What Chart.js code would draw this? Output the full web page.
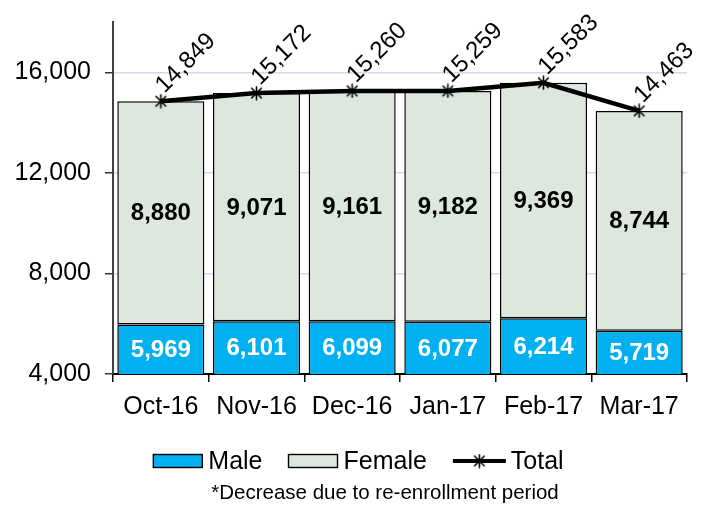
<!DOCTYPE html>
<html><head><meta charset="utf-8">
<script src="https://cdn.jsdelivr.net/npm/chart.js@4.4.1/dist/chart.umd.min.js"></script>
<style>html,body{margin:0;padding:0;background:#fff;}</style>
</head><body>
<canvas id="c" width="704" height="506" style="display:block;width:704px;height:506px"></canvas>
<script>
const categories = ['Oct-16', 'Nov-16', 'Dec-16', 'Jan-17', 'Feb-17', 'Mar-17'];
const male = [5969, 6101, 6099, 6077, 6214, 5719];
const female = [8880, 9071, 9161, 9182, 9369, 8744];
const total = [14849, 15172, 15260, 15259, 15583, 14463];
const yTicks = [4000, 8000, 12000, 16000];
const footnote = '*Decrease due to re-enrollment period';

const FONT = "'Liberation Sans', Arial, sans-serif";
Chart.defaults.font.family = FONT;
Chart.defaults.color = '#000';

const MALE_COLOR = '#00b0f0';
const FEMALE_COLOR = '#dde7de';

function makeStar(size, lw) {
  const c = document.createElement('canvas');
  c.width = size; c.height = size;
  const g = c.getContext('2d');
  g.strokeStyle = '#000'; g.lineWidth = lw; g.lineCap = 'butt';
  const m = size / 2, r = size / 2 - 0.5;
  const d = r * 0.75;
  g.beginPath();
  g.moveTo(m - d, m - d); g.lineTo(m + d, m + d);
  g.moveTo(m + d, m - d); g.lineTo(m - d, m + d);
  g.moveTo(m, m - r); g.lineTo(m, m + r);
  g.stroke();
  return c;
}
const star = makeStar(15, 1.6);
const fmt = v => v.toLocaleString('en-US');

const labelPlugin = {
  id: 'valueLabels',
  afterDatasetsDraw(chart) {
    const ctx = chart.ctx, ys = chart.scales.y, area = chart.chartArea;
    const tMeta = chart.getDatasetMeta(0), mMeta = chart.getDatasetMeta(1), fMeta = chart.getDatasetMeta(2);
    ctx.save();
    ctx.font = 'bold 24px ' + FONT;
    ctx.textAlign = 'center'; ctx.textBaseline = 'middle';
    male.forEach((v, i) => {
      const el = mMeta.data[i];
      const top = ys.getPixelForValue(v);
      const bot = Math.min(area.bottom, ys.getPixelForValue(0));
      ctx.fillStyle = '#fff';
      ctx.fillText(fmt(v), el.x, (top + bot) / 2 + 1);
    });
    female.forEach((v, i) => {
      const el = fMeta.data[i];
      const bot = ys.getPixelForValue(male[i]);
      const top = ys.getPixelForValue(male[i] + v);
      ctx.fillStyle = '#000';
      ctx.fillText(fmt(v), el.x, (top + bot) / 2 + 1);
    });
    ctx.font = '24px ' + FONT;
    total.forEach((v, i) => {
      const p = tMeta.data[i];
      ctx.save();
      ctx.translate(p.x + 25, p.y - 38);
      ctx.rotate(-Math.PI / 4);
      ctx.fillStyle = '#000';
      ctx.fillText(fmt(v), 0, 0);
      ctx.restore();
    });
    ctx.restore();
  }
};

const legendPlugin = {
  id: 'customLegend',
  afterDraw(chart) {
    const ctx = chart.ctx;
    ctx.save();
    ctx.font = '25px ' + FONT;
    ctx.textBaseline = 'middle';
    ctx.textAlign = 'left';
    const cy = 461;
    const items = [
      { label: 'Male', kind: 'box', color: MALE_COLOR },
      { label: 'Female', kind: 'box', color: FEMALE_COLOR },
      { label: 'Total', kind: 'line' }
    ];
    const boxW = 49, lineW = 53, gapIcon = 6, gapItem = 26;
    let totalW = 0;
    items.forEach((it, k) => {
      it.w = ctx.measureText(it.label).width;
      totalW += (it.kind === 'box' ? boxW : lineW) + gapIcon + it.w + (k < items.length - 1 ? gapItem : 0);
    });
    let x = 359 - totalW / 2;
    items.forEach(it => {
      if (it.kind === 'box') {
        ctx.fillStyle = it.color;
        ctx.fillRect(x, cy - 6.5, boxW, 13);
        ctx.strokeStyle = '#000'; ctx.lineWidth = 1.4;
        ctx.strokeRect(x, cy - 6.5, boxW, 13);
        x += boxW + gapIcon;
      } else {
        ctx.strokeStyle = '#000'; ctx.lineWidth = 4;
        ctx.beginPath(); ctx.moveTo(x, cy); ctx.lineTo(x + lineW, cy); ctx.stroke();
        ctx.drawImage(star, x + lineW / 2 - star.width / 2, cy - star.height / 2);
        x += lineW + gapIcon - 1;
      }
      ctx.fillStyle = '#000';
      ctx.fillText(it.label, x, cy + 1);
      x += it.w + gapItem;
    });
    ctx.font = '20.5px ' + FONT;
    ctx.textAlign = 'center';
    ctx.fillText(footnote, 385, 493);
    ctx.restore();
  }
};

new Chart(document.getElementById('c'), {
  type: 'bar',
  data: {
    labels: categories,
    datasets: [
      { type: 'line', label: 'Total', data: total, borderColor: '#000', borderWidth: 4.5, tension: 0,
        pointStyle: star, pointRadius: 7, pointHoverRadius: 7, order: 0, stack: 'total', fill: false },
      { label: 'Male', data: male, backgroundColor: MALE_COLOR, borderColor: '#000', borderWidth: 1.5,
        borderSkipped: false, stack: 'g', order: 1, barPercentage: 0.91, categoryPercentage: 1 },
      { label: 'Female', data: female, backgroundColor: FEMALE_COLOR, borderColor: '#000', borderWidth: 1.5,
        borderSkipped: false, stack: 'g', order: 1, barPercentage: 0.91, categoryPercentage: 1 }
    ]
  },
  options: {
    responsive: false, animation: false, devicePixelRatio: 1,
    layout: { padding: { left: 0, right: 17, top: 22, bottom: 88 } },
    plugins: { legend: { display: false }, tooltip: { enabled: false } },
    scales: {
      x: {
        stacked: true,
        afterFit: s => { s.height = 44; },
        grid: { offset: true, drawOnChartArea: false, tickLength: 8, tickColor: '#000', lineWidth: 1.5 },
        border: { color: '#000', width: 2 },
        ticks: { font: { size: 25 }, padding: 10, color: '#000' }
      },
      y: {
        stacked: true, min: 4000, max: 18000,
        afterBuildTicks: s => { s.ticks = yTicks.map(v => ({ value: v })); },
        afterFit: s => { s.width = 113; s.paddingTop = 0; },
        grid: { color: '#d3d8f2', tickColor: '#333', tickLength: 8, lineWidth: 1.5 },
        border: { color: '#404040', width: 2 },
        ticks: { font: { size: 25 }, padding: 14, color: '#000', callback: v => fmt(v) }
      }
    }
  },
  plugins: [labelPlugin, legendPlugin]
});
</script>
</body></html>
